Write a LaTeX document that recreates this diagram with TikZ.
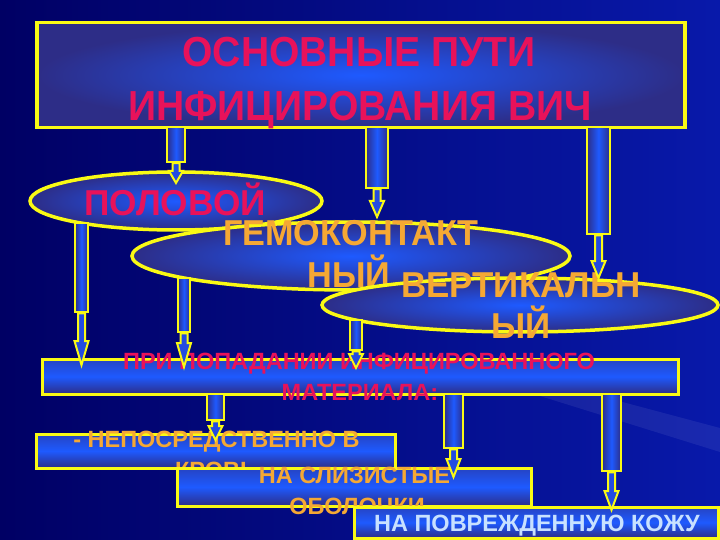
\documentclass[tikz,border=0pt]{standalone}
\usepackage{fontspec}
\usepackage{graphicx}
\setmainfont{Liberation Sans}
\usetikzlibrary{shapes.geometric,calc}
\definecolor{bgL}{RGB}{0,0,100}
\definecolor{bgR}{RGB}{8,25,170}
\definecolor{yel}{RGB}{250,250,20}
\definecolor{bright}{RGB}{30,90,255}
\definecolor{darkb}{RGB}{45,45,135}
\definecolor{crim}{RGB}{232,18,90}
\definecolor{orng}{RGB}{245,168,52}
\definecolor{lblue}{RGB}{200,225,255}
\definecolor{arrfill}{RGB}{35,75,225}
\tikzset{
 titlebox/.style={rectangle, draw=yel, line width=3.5pt, inner color=bright, outer color=darkb, inner sep=0pt},
 ellbox/.style={ellipse, draw=yel, line width=3.5pt, inner color=bright, outer color=darkb, inner sep=0pt},
 lowbox/.style={rectangle, draw=yel, line width=3pt, top color=darkb!50!bright, bottom color=darkb, middle color=bright, inner sep=0pt},
 barbox/.style={rectangle, draw=yel, line width=2.5pt, left color=darkb, right color=darkb, middle color=bright, inner sep=0pt},
 arrsty/.style={draw=yel, line width=2pt, fill=arrfill, line join=miter, miter limit=4},
 lbl/.style={anchor=base, inner sep=0pt},
}
\newcommand\lab[7]{%
 \node[lbl, text=#4, font=\fontsize{#5}{#5}\selectfont\bfseries] (#1) at (#2,#3) {\scalebox{#6}[1]{#7}};
}
\newcommand\dnarrow[3]{%
 \draw[arrsty] let \p1=(#1.south), \p2=(#2) in
 (\x2-3.5pt,\y1) -- (\x2-3.5pt,\y2+#3pt) -- (\x2-7pt,\y2+#3pt) -- (\x2,\y2) -- (\x2+7pt,\y2+#3pt) -- (\x2+3.5pt,\y2+#3pt) -- (\x2+3.5pt,\y1) -- cycle;
}
\begin{document}
\begin{tikzpicture}[x=1pt,y=-1pt]
\useasboundingbox (0,0) rectangle (720,540);
\fill[left color=bgL, right color=bgR] (0,0) rectangle (720,540);
\fill[white, opacity=0.07] (540,380) -- (720,428) -- (720,452) -- (540,396) -- cycle;

% title
\node[titlebox, minimum width=648pt, minimum height=105pt] (title) at (361,75) {};
\lab{ta}{359}{67}{crim}{42}{0.93}{ОСНОВНЫЕ ПУТИ}
\lab{tb}{360}{121}{crim}{42}{0.93}{ИНФИЦИРОВАНИЯ ВИЧ}

% ellipses
\node[ellbox, minimum width=292pt, minimum height=58pt] (e1) at (176,201) {};
\lab{p1}{175}{215}{crim}{36}{0.98}{ПОЛОВОЙ}
\node[ellbox, minimum width=438pt, minimum height=68pt] (e2) at (351,256) {};
\lab{g1}{351}{245}{orng}{36}{0.95}{ГЕМОКОНТАКТ}
\lab{g2}{349}{287}{orng}{36}{0.95}{НЫЙ}
\node[ellbox, minimum width=396pt, minimum height=54pt] (e3) at (520,305) {};
\lab{v1}{521}{297}{orng}{36}{0.97}{ВЕРТИКАЛЬН}
\lab{v2}{521}{338}{orng}{36}{0.97}{ЫЙ}

% lower boxes
\node[lowbox, minimum width=636pt, minimum height=35pt] (b1) at (360,376.5) {};
\lab{m1}{359}{369}{crim}{23.5}{1}{ПРИ ПОПАДАНИИ ИНФИЦИРОВАННОГО}
\lab{m2}{360}{400}{crim}{23.5}{1}{МАТЕРИАЛА:}
\node[lowbox, minimum width=359pt, minimum height=34pt] (b2) at (215.5,451) {};
\lab{k1}{216.5}{447}{orng}{23.5}{1}{- НЕПОСРЕДСТВЕННО В}
\lab{k2}{216}{478}{orng}{23.5}{1}{КРОВЬ}
\node[lowbox, minimum width=354pt, minimum height=38pt] (b3) at (354,487) {};
\lab{s1}{354.5}{483}{orng}{23.5}{1}{НА СЛИЗИСТЫЕ}
\lab{s2}{357}{514}{orng}{23.5}{1}{ОБОЛОЧКИ}
\node[lowbox, minimum width=364pt, minimum height=31pt] (b4) at (536,522.5) {};
\lab{c1}{537}{531}{lblue}{23.5}{1}{НА ПОВРЕЖДЕННУЮ КОЖУ}

% tips
\coordinate (tT1) at (176,183);
\coordinate (tT2) at (377,217);
\coordinate (tT3) at (598.5,278);
\coordinate (tE1) at (81.5,365);
\coordinate (tE2) at (184,367);
\coordinate (tE3) at (356,368);
\coordinate (tA1) at (215.5,440);
\coordinate (tA2) at (453.5,477);
\coordinate (tA3) at (611.5,510);

% bars + arrows
\node[barbox, minimum width=18pt, minimum height=35pt] (T1) at (176,144.5) {};
\dnarrow{T1}{tT1}{12}
\node[barbox, minimum width=22pt, minimum height=61pt] (T2) at (377,157.5) {};
\dnarrow{T2}{tT2}{16}
\node[barbox, minimum width=23pt, minimum height=107pt] (T3) at (598.5,180.5) {};
\dnarrow{T3}{tT3}{17}
\node[barbox, minimum width=13pt, minimum height=89pt] (E1) at (81.5,267.5) {};
\dnarrow{E1}{tE1}{24}
\node[barbox, minimum width=12pt, minimum height=54pt] (E2) at (184,305) {};
\dnarrow{E2}{tE2}{24}
\node[barbox, minimum width=12pt, minimum height=30pt] (E3) at (356,335) {};
\dnarrow{E3}{tE3}{14}
\node[barbox, minimum width=17pt, minimum height=26pt] (A1) at (215.5,407) {};
\dnarrow{A1}{tA1}{14}
\node[barbox, minimum width=19pt, minimum height=54pt] (A2) at (453.5,421) {};
\dnarrow{A2}{tA2}{18}
\node[barbox, minimum width=19pt, minimum height=77pt] (A3) at (611.5,432.5) {};
\dnarrow{A3}{tA3}{19}
\end{tikzpicture}
\end{document}
